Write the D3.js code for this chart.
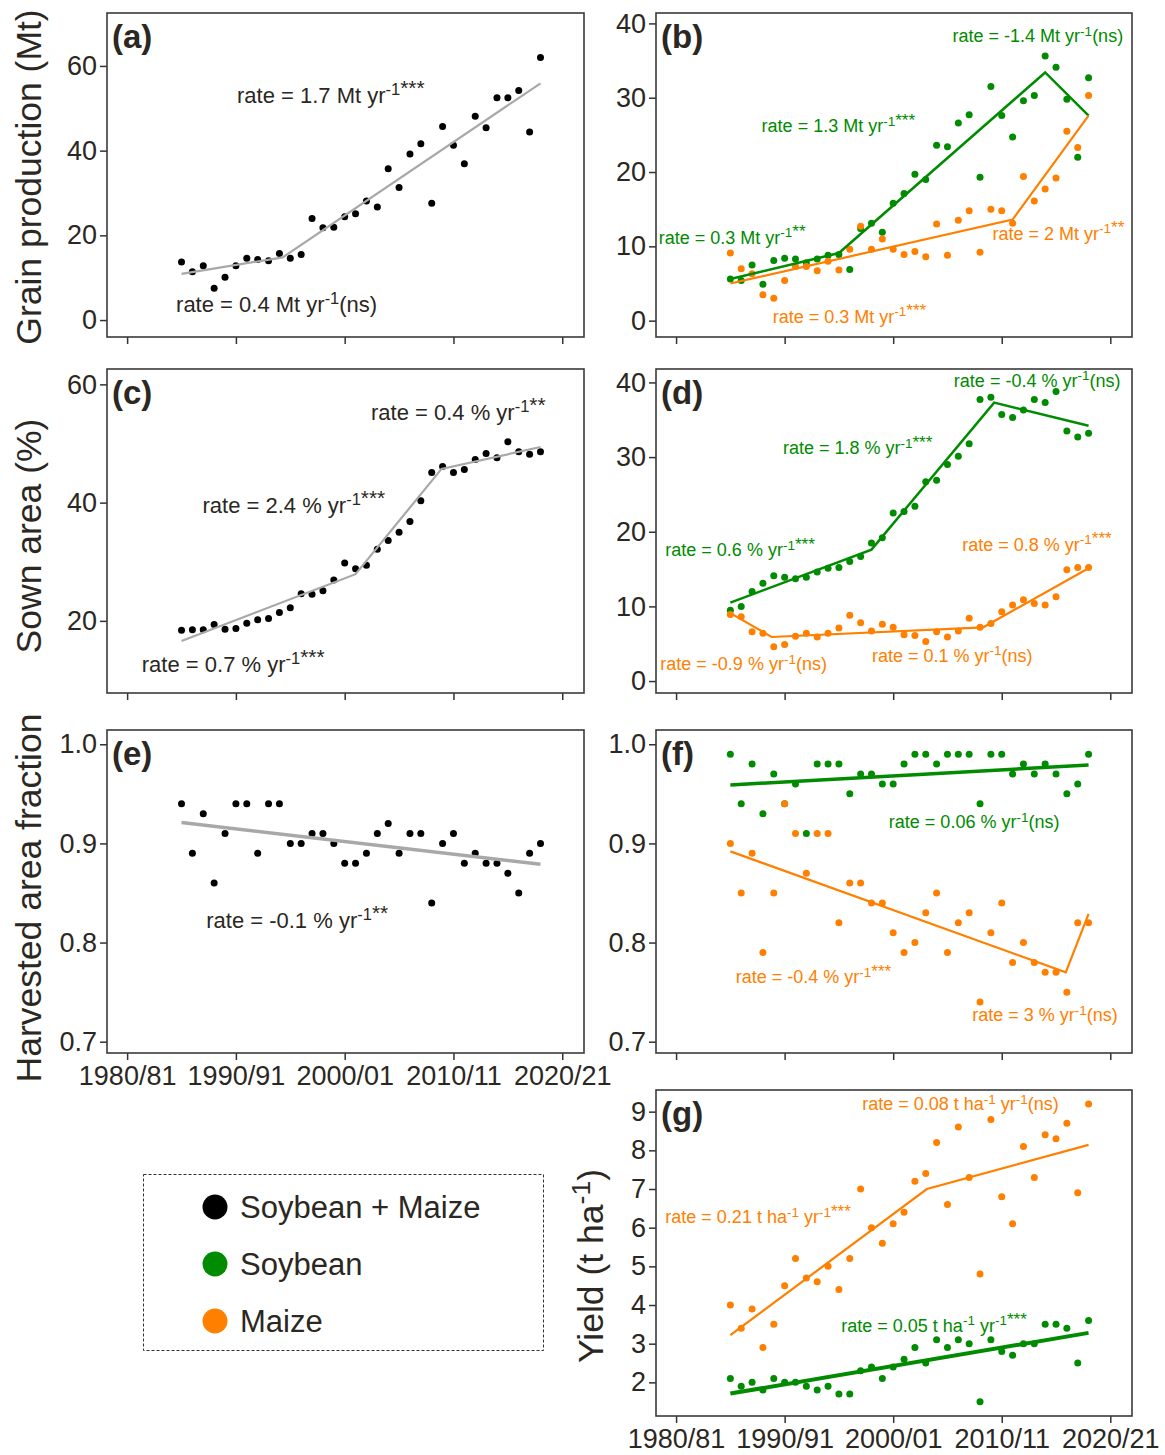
<!DOCTYPE html>
<html>
<head>
<meta charset="utf-8">
<script src="https://cdn.jsdelivr.net/npm/d3@7.9.0/dist/d3.min.js"></script>
<style>
  body { margin: 0; background: #fff; }
  svg text { font-family: "Liberation Sans", Arial, sans-serif; }
</style>
</head>
<body>
<svg id="chart" width="1165" height="1455"></svg>
<script>
// ---- data ----
const years = [1985, 1986, 1987, 1988, 1989, 1990, 1991, 1992, 1993, 1994,
  1995, 1996, 1997, 1998, 1999, 2000, 2001, 2002, 2003, 2004,
  2005, 2006, 2007, 2008, 2009, 2010, 2011, 2012, 2013, 2014,
  2015, 2016, 2017, 2018];

const xTicks = [1980, 1990, 2000, 2010, 2020];
const xTickLabels = ['1980/81', '1990/91', '2000/01', '2010/11', '2020/21'];

// (a) grain production, soybean + maize (Mt)
const grainTotal = [13.7, 11.4, 12.8, 7.5, 10.1, 12.8, 14.6, 14.3, 14.0, 15.7,
  14.6, 15.5, 24.0, 21.8, 21.9, 24.4, 25.1, 28.1, 26.7, 35.7,
  31.3, 39.2, 41.6, 27.6, 45.7, 41.3, 36.9, 48.1, 45.4, 52.5,
  52.5, 54.2, 44.4, 62.0];
// (b) grain production by crop (Mt)
const grainSoy = [5.6, 5.4, 7.5, 4.9, 8.1, 8.4, 8.3, 7.8, 8.3, 8.8,
  8.9, 6.9, 12.4, 13.1, 11.9, 15.8, 17.1, 19.7, 19.0, 23.6,
  23.4, 26.6, 27.7, 19.3, 31.5, 27.6, 24.7, 29.6, 30.3, 35.6,
  34.1, 29.8, 22.0, 32.7];
const grainMaize = [9.1, 7.0, 6.3, 3.5, 3.0, 5.4, 7.3, 7.3, 6.7, 8.0,
  6.8, 9.6, 12.7, 9.6, 11.0, 9.6, 8.9, 9.3, 8.6, 13.0,
  8.8, 13.5, 14.8, 9.2, 15.0, 14.8, 13.1, 19.4, 16.1, 17.7,
  19.2, 25.5, 23.3, 30.3];
// (c) sown area, soybean + maize (%)
const areaTotal = [18.4, 18.5, 18.5, 19.4, 18.6, 18.7, 19.6, 20.2, 20.4, 21.4,
  22.2, 24.6, 24.5, 25.1, 26.9, 29.8, 28.8, 29.4, 32.1, 33.6,
  35.0, 36.8, 40.3, 45.1, 46.1, 45.1, 45.6, 47.3, 48.3, 47.6,
  50.3, 48.6, 48.2, 48.6];
// (d) sown area by crop (%)
const areaSoy = [9.5, 10.0, 12.0, 13.1, 14.1, 13.9, 13.7, 13.9, 14.6, 15.1,
  15.2, 16.0, 16.7, 18.5, 19.2, 22.5, 22.7, 23.4, 26.7, 26.9,
  29.0, 30.1, 31.8, 37.7, 38.0, 35.7, 35.3, 36.3, 37.7, 37.3,
  38.8, 33.5, 32.7, 33.2];
const areaMaize = [8.9, 8.6, 6.6, 6.4, 4.6, 4.9, 6.0, 6.4, 5.9, 6.4,
  7.1, 8.8, 7.8, 6.7, 7.6, 7.2, 6.2, 6.1, 5.3, 6.6,
  5.9, 6.7, 8.4, 7.2, 7.7, 9.3, 10.2, 10.9, 10.4, 10.2,
  11.3, 14.9, 15.2, 15.2];
// (e) harvested area fraction, soybean + maize
const harvTotal = [0.94, 0.89, 0.93, 0.86, 0.91, 0.94, 0.94, 0.89, 0.94, 0.94,
  0.90, 0.90, 0.91, 0.91, 0.90, 0.88, 0.88, 0.89, 0.91, 0.92,
  0.89, 0.91, 0.91, 0.84, 0.90, 0.91, 0.88, 0.89, 0.88, 0.88,
  0.87, 0.85, 0.89, 0.90];
// (f) harvested area fraction by crop
const harvSoy = [0.99, 0.94, 0.98, 0.93, 0.97, 0.94, 0.96, 0.91, 0.98, 0.98,
  0.98, 0.95, 0.97, 0.97, 0.96, 0.96, 0.98, 0.99, 0.99, 0.98,
  0.99, 0.99, 0.99, 0.94, 0.99, 0.99, 0.97, 0.98, 0.97, 0.98,
  0.97, 0.95, 0.96, 0.99];
const harvMaize = [0.90, 0.85, 0.89, 0.79, 0.85, 0.94, 0.91, 0.87, 0.91, 0.91,
  0.82, 0.86, 0.86, 0.84, 0.84, 0.81, 0.79, 0.80, 0.83, 0.85,
  0.79, 0.82, 0.83, 0.74, 0.81, 0.84, 0.78, 0.80, 0.78, 0.77,
  0.77, 0.75, 0.82, 0.82];
// (g) yield (t/ha)
const yieldSoy = [2.1, 1.9, 2.0, 1.8, 2.1, 2.0, 2.0, 1.9, 1.8, 1.9,
  1.7, 1.7, 2.3, 2.4, 2.1, 2.4, 2.6, 2.9, 2.5, 3.1,
  2.9, 3.1, 3.0, 1.5, 3.1, 2.8, 2.7, 3.0, 3.0, 3.5,
  3.5, 3.4, 2.5, 3.6];
const yieldMaize = [4.0, 3.4, 3.9, 2.9, 3.5, 4.5, 5.2, 4.7, 4.6, 5.0,
  4.4, 5.2, 7.0, 6.0, 5.6, 6.1, 6.4, 7.2, 7.4, 8.2,
  6.6, 8.6, 7.3, 4.8, 8.8, 6.8, 6.1, 8.1, 7.3, 8.4,
  8.3, 8.7, 6.9, 9.2];

// piecewise fits: [year, value] breakpoints
const fitGrainTotal = [[1985, 10.9], [1994.3, 14.8], [2018, 55.9]];
const fitGrainSoy = [[1985, 5.6], [1995, 9.1], [2014, 33.4], [2018, 27.6]];
const fitGrainMaize = [[1985, 5.0], [2011, 13.6], [2018, 27.6]];
const fitAreaTotal = [[1985, 16.6], [2001, 27.9], [2008.9, 45.7], [2018, 49.4]];
const fitAreaSoy = [[1985, 10.5], [1998, 17.6], [2009.3, 37.3], [2018, 34.2]];
const fitAreaMaize = [[1985, 9.1], [1988.8, 5.9], [2008.3, 7.2], [2018, 15.1]];
const fitHarvTotal = [[1985, 0.921], [2018, 0.879]];
const fitHarvSoy = [[1985, 0.959], [2018, 0.979]];
const fitHarvMaize = [[1985, 0.892], [2015.9, 0.770], [2018, 0.829]];
const fitYieldSoy = [[1985, 1.71], [2018, 3.28]];
const fitYieldMaize = [[1985, 3.22], [2003.1, 7.0], [2018, 8.14]];

const INK = '#2b2722';
const GREEN = '#008b00';
const ORANGE = '#ff8000';
const GRAY = '#a8a8a8';

const svg = d3.select('#chart');

// text with ^{...} superscripts; significance stars drawn a bit larger
function richText(sel, str, fs) {
  const parts = str.split(/\^\{([^}]*)\}/);
  const shift = fs * 0.36;
  let raised = false;
  parts.forEach((s, i) => {
    if (s === '') return;
    if (i % 2 === 1) {
      const m = s.match(/^([^*]*)(\**)$/);
      const t = sel.append('tspan').text(m[1]).attr('font-size', fs * 0.75);
      if (!raised) { t.attr('dy', -shift); raised = true; }
      if (m[2]) sel.append('tspan').text(m[2]).attr('font-size', fs * 0.95);
    } else {
      const t = sel.append('tspan').text(s);
      if (raised) { t.attr('dy', shift); raised = false; }
    }
  });
}

const panels = [
  { id: 'a', x: 107, y: 13, w: 477, h: 324, yDomain: [-4.0, 72.5], yTicks: [0, 20, 40, 60],
    series: [{ v: grainTotal, c: 'black' }],
    fits: [{ d: fitGrainTotal, c: GRAY, w: 2.2 }],
    notes: [
      { t: 'rate = 1.7 Mt yr^{-1***}', x: 1990.1, y: 51.2, c: INK, fs: 22 },
      { t: 'rate = 0.4 Mt yr^{-1}(ns)', x: 1984.5, y: 1.96, c: INK, fs: 22 }] },
  { id: 'b', x: 656, y: 13, w: 476, h: 324, yDomain: [-2.2, 41.4], yTicks: [0, 10, 20, 30, 40],
    series: [{ v: grainSoy, c: GREEN }, { v: grainMaize, c: ORANGE }],
    fits: [{ d: fitGrainSoy, c: GREEN, w: 2.5 }, { d: fitGrainMaize, c: ORANGE, w: 2.2 }],
    notes: [
      { t: 'rate = -1.4 Mt yr^{-1}(ns)', x: 2005.47, y: 37.48, c: GREEN, fs: 18 },
      { t: 'rate = 1.3 Mt yr^{-1***}', x: 1987.88, y: 25.34, c: GREEN, fs: 18 },
      { t: 'rate = 0.3 Mt yr^{-1**}', x: 1978.4, y: 10.38, c: GREEN, fs: 18 },
      { t: 'rate = 2 Mt yr^{-1**}', x: 2009.15, y: 10.92, c: ORANGE, fs: 18 },
      { t: 'rate = 0.3 Mt yr^{-1***}', x: 1988.9, y: -0.27, c: ORANGE, fs: 18 }] },
  { id: 'c', x: 107, y: 369, w: 477, h: 324, yDomain: [7.8, 62.6], yTicks: [20, 40, 60],
    series: [{ v: areaTotal, c: 'black' }],
    fits: [{ d: fitAreaTotal, c: GRAY, w: 2.2 }],
    notes: [
      { t: 'rate = 0.4 % yr^{-1**}', x: 2002.42, y: 53.97, c: INK, fs: 22 },
      { t: 'rate = 2.4 % yr^{-1***}', x: 1986.93, y: 38.2, c: INK, fs: 22 },
      { t: 'rate = 0.7 % yr^{-1***}', x: 1981.35, y: 11.43, c: INK, fs: 22 }] },
  { id: 'd', x: 656, y: 369, w: 476, h: 324, yDomain: [-1.6, 41.8], yTicks: [0, 10, 20, 30, 40],
    series: [{ v: areaSoy, c: GREEN }, { v: areaMaize, c: ORANGE }],
    fits: [{ d: fitAreaSoy, c: GREEN, w: 2.5 }, { d: fitAreaMaize, c: ORANGE, w: 2.2 }],
    notes: [
      { t: 'rate = -0.4 % yr^{-1}(ns)', x: 2005.59, y: 39.41, c: GREEN, fs: 18 },
      { t: 'rate = 1.8 % yr^{-1***}', x: 1989.84, y: 30.36, c: GREEN, fs: 18 },
      { t: 'rate = 0.6 % yr^{-1***}', x: 1979.01, y: 16.74, c: GREEN, fs: 18 },
      { t: 'rate = 0.8 % yr^{-1***}', x: 2006.36, y: 17.45, c: ORANGE, fs: 18 },
      { t: 'rate = 0.1 % yr^{-1}(ns)', x: 1998.04, y: 2.58, c: ORANGE, fs: 18 },
      { t: 'rate = -0.9 % yr^{-1}(ns)', x: 1978.55, y: 1.47, c: ORANGE, fs: 18 }] },
  { id: 'e', x: 107, y: 730, w: 477, h: 323, yDomain: [0.6886, 1.0144], yTicks: [0.7, 0.8, 0.9, 1.0],
    fmt: d3.format('.1f'), xLabels: true,
    series: [{ v: harvTotal, c: 'black' }],
    fits: [{ d: fitHarvTotal, c: GRAY, w: 3.5 }],
    notes: [{ t: 'rate = -0.1 % yr^{-1**}', x: 1987.27, y: 0.8144, c: INK, fs: 22 }] },
  { id: 'f', x: 656, y: 730, w: 476, h: 323, yDomain: [0.6886, 1.0144], yTicks: [0.7, 0.8, 0.9, 1.0],
    fmt: d3.format('.1f'),
    series: [{ v: harvSoy, c: GREEN }, { v: harvMaize, c: ORANGE }],
    fits: [{ d: fitHarvSoy, c: GREEN, w: 3.5 }, { d: fitHarvMaize, c: ORANGE, w: 2.2 }],
    notes: [
      { t: 'rate = 0.06 % yr^{-1}(ns)', x: 1999.6, y: 0.9154, c: GREEN, fs: 18 },
      { t: 'rate = -0.4 % yr^{-1***}', x: 1985.49, y: 0.7588, c: ORANGE, fs: 18 },
      { t: 'rate = 3 % yr^{-1}(ns)', x: 2007.28, y: 0.7205, c: ORANGE, fs: 18 }] },
  { id: 'g', x: 656, y: 1090, w: 476, h: 326, yDomain: [1.13, 9.56], yTicks: [2, 3, 4, 5, 6, 7, 8, 9],
    xLabels: true,
    series: [{ v: yieldSoy, c: GREEN }, { v: yieldMaize, c: ORANGE }],
    fits: [{ d: fitYieldSoy, c: GREEN, w: 4 }, { d: fitYieldMaize, c: ORANGE, w: 2.2 }],
    notes: [
      { t: 'rate = 0.08 t ha^{-1} yr^{-1}(ns)', x: 1997.15, y: 9.04, c: ORANGE, fs: 18 },
      { t: 'rate = 0.21 t ha^{-1} yr^{-1***}', x: 1979.01, y: 6.11, c: ORANGE, fs: 18 },
      { t: 'rate = 0.05 t ha^{-1} yr^{-1***}', x: 1995.22, y: 3.31, c: GREEN, fs: 18 }] }
];

panels.forEach(p => {
  const g = svg.append('g').attr('class', 'panel-' + p.id);
  const x = d3.scaleLinear().domain([1978.15, 2022.0]).range([p.x, p.x + p.w]);
  const y = d3.scaleLinear().domain(p.yDomain).range([p.y + p.h, p.y]);

  const yAxis = g.append('g')
    .attr('transform', `translate(${p.x},0)`)
    .call(d3.axisLeft(y).tickValues(p.yTicks).tickSize(7).tickPadding(3)
      .tickFormat(p.fmt || (d => d)));
  const xAxis = g.append('g')
    .attr('transform', `translate(0,${p.y + p.h})`)
    .call(d3.axisBottom(x).tickValues(xTicks).tickSize(7).tickPadding(6)
      .tickFormat((d, i) => p.xLabels ? xTickLabels[i] : ''));

  [yAxis, xAxis].forEach(ax => {
    ax.select('.domain').remove();
    ax.selectAll('.tick line').attr('stroke', '#333').attr('stroke-width', 1.5);
    ax.selectAll('.tick text').attr('fill', INK).attr('font-size', 27);
  });

  g.append('rect')
    .attr('x', p.x).attr('y', p.y).attr('width', p.w).attr('height', p.h)
    .attr('fill', 'none').attr('stroke', '#3a3a3a').attr('stroke-width', 1.6);

  p.series.forEach(s => {
    g.append('g').selectAll('circle')
      .data(s.v)
      .join('circle')
      .attr('cx', (d, i) => x(years[i]))
      .attr('cy', d => y(d))
      .attr('r', 3.5)
      .attr('fill', s.c);
  });

  const line = d3.line().x(d => x(d[0])).y(d => y(d[1]));
  p.fits.forEach(f => {
    g.append('path')
      .attr('d', line(f.d))
      .attr('fill', 'none')
      .attr('stroke', f.c)
      .attr('stroke-width', f.w);
  });

  p.notes.forEach(n => {
    const t = g.append('text')
      .attr('x', x(n.x)).attr('y', y(n.y))
      .attr('fill', n.c).attr('font-size', n.fs);
    richText(t, n.t, n.fs);
  });

  g.append('text')
    .attr('x', p.x + 5).attr('y', p.y + 35)
    .attr('font-size', 33).attr('font-weight', 'bold').attr('fill', INK)
    .text('(' + p.id + ')');
});

// y axis titles
const yTitles = [
  { t: 'Grain production (Mt)', x: 41, y: 177 },
  { t: 'Sown area (%)', x: 41, y: 536 },
  { t: 'Harvested area fraction', x: 41, y: 898 },
  { t: 'Yield (t ha^{-1})', x: 603, y: 1266 }
];
yTitles.forEach(d => {
  const t = svg.append('text')
    .attr('transform', `translate(${d.x},${d.y}) rotate(-90)`)
    .attr('text-anchor', 'middle')
    .attr('font-size', 35.5)
    .attr('fill', INK);
  richText(t, d.t, 35.5);
});

// legend
const legendItems = ['Soybean + Maize', 'Soybean', 'Maize'];
const legendColors = ['black', GREEN, ORANGE];
const lg = svg.append('g');
lg.append('rect')
  .attr('x', 143.5).attr('y', 1174.5).attr('width', 400).attr('height', 176)
  .attr('fill', 'none').attr('stroke', '#333').attr('stroke-width', 1)
  .attr('stroke-dasharray', '3,2');
const rows = lg.selectAll('g.item')
  .data(legendItems)
  .join('g')
  .attr('class', 'item')
  .attr('transform', (d, i) => `translate(215,${1207 + i * 57})`);
rows.append('circle').attr('r', 12.5).attr('fill', (d, i) => legendColors[i]);
rows.append('text')
  .attr('x', 25).attr('dy', '0.35em')
  .attr('font-size', 31).attr('fill', INK)
  .text(d => d);
</script>
</body>
</html>
